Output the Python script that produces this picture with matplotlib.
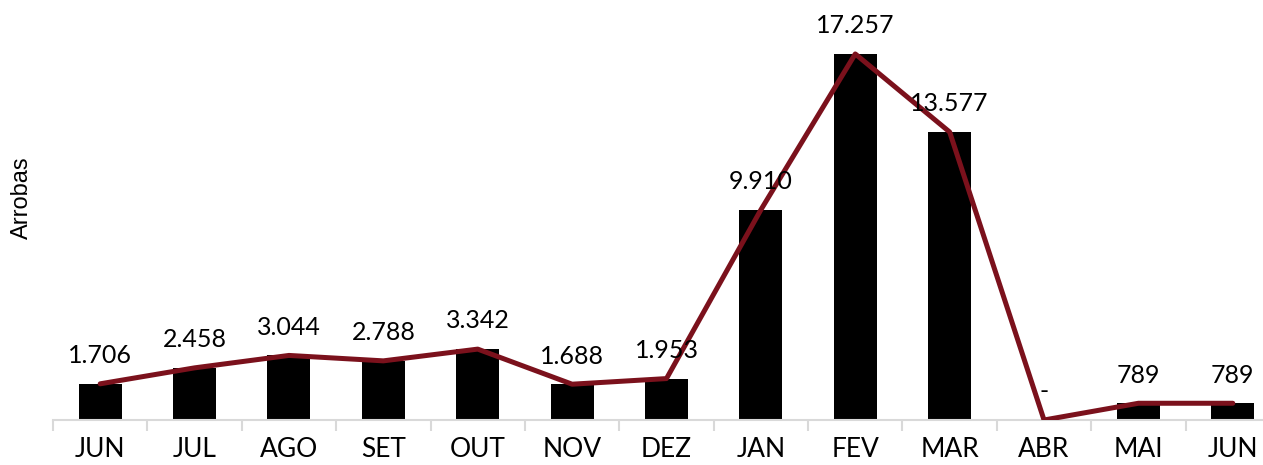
import matplotlib
matplotlib.use('Agg')
import matplotlib.pyplot as plt
import numpy as np

months = ['JUN', 'JUL', 'AGO', 'SET', 'OUT', 'NOV', 'DEZ', 'JAN', 'FEV', 'MAR', 'ABR', 'MAI', 'JUN']
arrobas = [1706, 2458, 3044, 2788, 3342, 1688, 1953, 9910, 17257, 13577, 0, 789, 789]

plt.rcParams['font.family'] = ['Lato', 'DejaVu Sans']

fig = plt.figure(figsize=(12.63, 4.65), dpi=100)
ax = fig.add_axes([53/1263, 1 - 420/465, 1 - 53/1263, 420/465])

x = np.arange(len(months))
ax.bar(x, arrobas, width=0.455, color='black', zorder=2)
ax.plot(x, arrobas, color='#7b111c', linewidth=3.6, solid_capstyle='round', zorder=3)

def fmt(v):
    if v == 0:
        return '-'
    return f'{v:,}'.replace(',', '.')

for xi, v in zip(x, arrobas):
    ax.annotate(fmt(v), (xi, v), xytext=(0, 12), textcoords='offset points',
                ha='center', va='bottom', fontsize=18, color='black', zorder=4)

ax.set_xlim(-0.5, 12.32)
ax.set_ylim(0, 19800)

ax.set_xticks(x)
ax.set_xticklabels(months, fontsize=19)
ax.set_xticks(np.arange(-0.5, 12.5, 1), minor=True)
ax.tick_params(axis='x', which='major', length=0, pad=12)
ax.tick_params(axis='x', which='minor', length=8, color='#d9d9d9', width=1.5)
ax.set_yticks([])

for s in ['top', 'right', 'left']:
    ax.spines[s].set_visible(False)
ax.spines['bottom'].set_color('#d9d9d9')
ax.spines['bottom'].set_linewidth(1.5)

ax.set_ylabel('Arrobas', fontsize=17, family=['Liberation Sans', 'DejaVu Sans'])
ax.yaxis.set_label_coords(-20/1210, 0.53)

fig.savefig('out.png', dpi=100)
